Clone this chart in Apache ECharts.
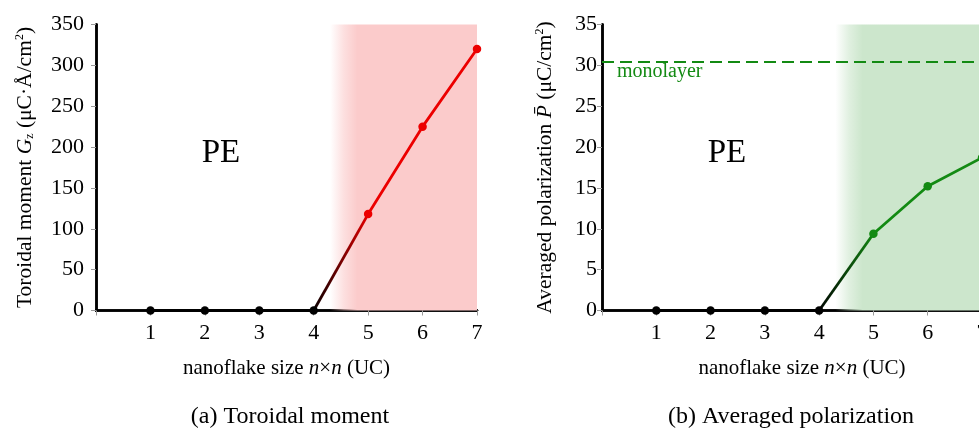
<!DOCTYPE html>
<html>
<head>
<meta charset="utf-8">
<script src="https://cdn.jsdelivr.net/npm/echarts@6/dist/echarts.min.js"></script>
<style>
html,body{margin:0;padding:0;background:#fff;}
#chart{width:979px;height:431px;}
</style>
</head>
<body>
<div id="chart"></div>
<script>
// ---- data ----
const sizes = [1, 2, 3, 4, 5, 6, 7];
const xTickLabels = ['1', '2', '3', '4', '5', '6', '7'];
const toroidal = [0, 0, 0, 0, 118, 225, 320];
const polarization = [0, 0, 0, 0, 9.4, 15.2, 18.7];
const monolayerP = 30.5;
const yTicksA = [0, 50, 100, 150, 200, 250, 300, 350];
const yTicksB = [0, 5, 10, 15, 20, 25, 30, 35];
const shadeStart = 4.3, shadeFull = 4.8, shadeEnd = 7;
const lastPE = 3; // index of last paraelectric (zero) point

// ---- styles ----
const FONT = 'Liberation Serif';
const RED = '#ec0000';
const GREEN = '#138a13';
const PINK = 'rgb(251,203,203)';
const LGREEN = 'rgb(204,230,204)';

function pairs(vals){ return sizes.map((s,i)=>[s, vals[i]]); }

function panelSeries(g, vals, color, shade){
  const p = pairs(vals);
  const f = shade.replace('rgb','rgba').replace(')',',0)');
  const frac = (shadeFull - shadeStart)/(shadeEnd - shadeStart);
  return [
    {
      type:'line', xAxisIndex:g*2, yAxisIndex:g*2, data:[], z:1, silent:true,
      markArea:{silent:true, itemStyle:{color:new echarts.graphic.LinearGradient(0,0,1,0,[
        {offset:0,color:f},{offset:frac*0.5,color:shade.replace('rgb','rgba').replace(')',',0.6)')},{offset:frac,color:shade},{offset:1,color:shade}])},
        data:[[{xAxis:shadeStart},{xAxis:shadeEnd}]]}
    },
    {
      type:'line', xAxisIndex:g*2, yAxisIndex:g*2, data:p.slice(lastPE, lastPE+2), z:3,
      showSymbol:false, symbol:'none',
      lineStyle:{width:2.8, color:new echarts.graphic.LinearGradient(0,0,1,0,[{offset:0,color:'#000'},{offset:1,color:color}])}
    },
    {
      type:'line', xAxisIndex:g*2, yAxisIndex:g*2, data:p.slice(0, lastPE+1), z:4,
      symbol:'circle', symbolSize:8.5, itemStyle:{color:'#000'}, lineStyle:{width:2.8,color:'#000'}
    },
    {
      type:'line', xAxisIndex:g*2, yAxisIndex:g*2, data:p.slice(lastPE+1), z:4,
      symbol:'circle', symbolSize:8.5, itemStyle:{color:color}, lineStyle:{width:2.8,color:color}
    }
  ];
}

function xAxes(g, nameShift){
  return [
    {gridIndex:g, type:'value', min:0, max:7, interval:1,
     axisLine:{lineStyle:{color:'#000',width:2.5}}, axisTick:{show:false}, splitLine:{show:false},
     axisLabel:{fontSize:22, color:'#000', fontFamily:FONT, margin:12,
       formatter:v=>{const i=sizes.indexOf(v); return i>=0?xTickLabels[i]:'';}},
     name:'nanoflake size {it|n}×{it|n} (UC)', nameLocation:'middle', nameGap:47,
     nameTextStyle:{fontSize:21, color:'#000', fontFamily:FONT, padding:[0,0,0,nameShift],
       rich:{it:{fontStyle:'italic', fontSize:21, fontFamily:FONT, color:'#000'}}}},
    {gridIndex:g, type:'value', min:0, max:7, interval:1, position:'top',
     axisLine:{lineStyle:{color:'#000',width:2.5}},
     axisTick:{show:true, inside:true, length:5, lineStyle:{color:'#999',width:1}},
     axisLabel:{show:false}, splitLine:{show:false}}
  ];
}

function yAxes(g, ticks, name, rich, labelMargin, nameGap){
  const max = ticks[ticks.length-1], step = ticks[1]-ticks[0];
  return [
    {gridIndex:g, type:'value', min:ticks[0], max:max, interval:step,
     axisLine:{show:true, lineStyle:{color:'#000',width:2.5}}, axisTick:{show:false}, splitLine:{show:false},
     axisLabel:{fontSize:22, color:'#000', fontFamily:FONT, margin:labelMargin},
     name:name, nameLocation:'middle', nameGap:nameGap,
     nameTextStyle:{fontSize:21.5, color:'#000', fontFamily:FONT, rich:rich}},
    {gridIndex:g, type:'value', min:ticks[0], max:max, interval:step, position:'right',
     axisLine:{show:true, lineStyle:{color:'#000',width:2.5}},
     axisTick:{show:true, inside:true, length:5, lineStyle:{color:'#999',width:1}},
     axisLabel:{show:false}, splitLine:{show:false}}
  ];
}

const richA = {
  it:{fontStyle:'italic', fontSize:21.5, fontFamily:FONT, color:'#000'},
  sub:{fontSize:12, fontFamily:FONT, color:'#000', verticalAlign:'bottom', padding:[6,0,0,0]},
  sup:{fontSize:12, fontFamily:FONT, color:'#000', verticalAlign:'top', padding:[0,0,8,0]}
};

const chart = echarts.init(document.getElementById('chart'));
const series = [].concat(
  panelSeries(0, toroidal, RED, PINK),
  panelSeries(1, polarization, GREEN, LGREEN)
);
series.push({
  type:'line', xAxisIndex:2, yAxisIndex:2, data:[], z:2, silent:true,
  markLine:{silent:true, symbol:'none', label:{show:false},
    lineStyle:{color:GREEN, width:2, type:[12,6]},
    data:[{yAxis:monolayerP}]}
});

chart.setOption({
  animation:false,
  backgroundColor:'#fff',
  textStyle:{fontFamily:FONT},
  grid:[
    {left:96, top:24.5, width:381, height:286, outerBoundsMode:'none', containLabel:false},
    {left:602, top:24.5, width:380, height:286, outerBoundsMode:'none', containLabel:false}
  ],
  xAxis:[].concat(xAxes(0,0), xAxes(1,20)),
  yAxis:[].concat(
    yAxes(0, yTicksA, 'Toroidal moment {it|G}{sub|z} (μC·Å/cm{sup|2})', richA, 12, 60),
    yAxes(1, yTicksB, 'Averaged polarization {it|P̄} (μC/cm{sup|2})', richA, 5, 46)
  ),
  series:series,
  graphic:[
    {type:'text', x:221, y:153, z:10, style:{text:'PE', fontSize:33, fontFamily:FONT, fill:'#000', align:'center', verticalAlign:'middle'}},
    {type:'text', x:727, y:153, z:10, style:{text:'PE', fontSize:33, fontFamily:FONT, fill:'#000', align:'center', verticalAlign:'middle'}},
    {type:'text', x:617, y:72, z:10, style:{text:'monolayer', fontSize:20, fontFamily:FONT, fill:GREEN, align:'left', verticalAlign:'middle'}},
    {type:'text', x:290, y:417, z:10, style:{text:'(a) Toroidal moment', fontSize:24, fontFamily:FONT, fill:'#000', align:'center', verticalAlign:'middle'}},
    {type:'text', x:791, y:417, z:10, style:{text:'(b) Averaged polarization', fontSize:24, fontFamily:FONT, fill:'#000', align:'center', verticalAlign:'middle'}}
  ]
});
</script>
</body>
</html>
